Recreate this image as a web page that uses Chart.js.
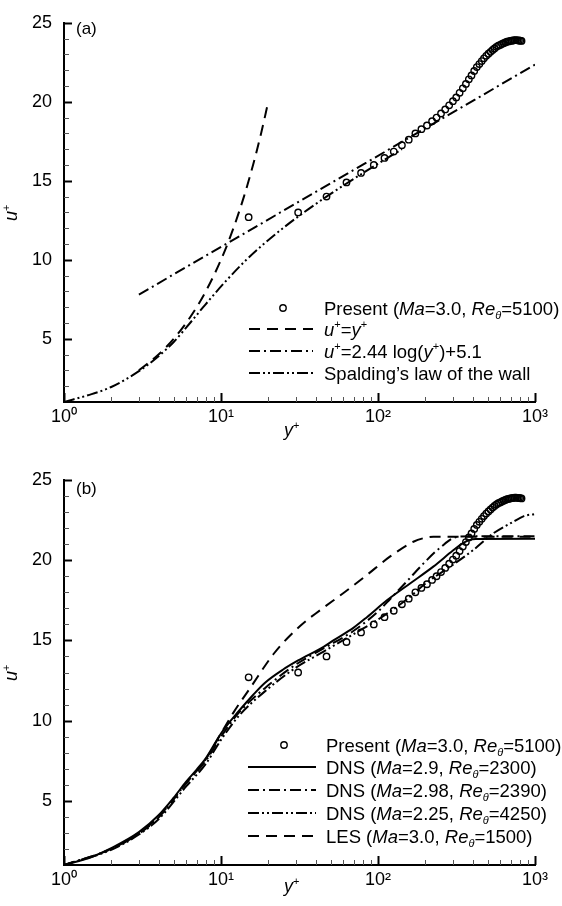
<!DOCTYPE html>
<html><head><meta charset="utf-8">
<script src="https://cdn.jsdelivr.net/npm/chart.js@4/dist/chart.umd.min.js"></script>
<style>
html,body{margin:0;padding:0;background:#fff;}
#wrap{position:relative;width:562px;height:906px;overflow:hidden;}
canvas{position:absolute;left:0;}
</style></head><body>
<div id="wrap">
<canvas id="ca" width="562" height="453" style="top:0"></canvas>
<canvas id="cb" width="562" height="453" style="top:453px"></canvas>
</div>
<script>
// ---------- data ----------
const xTickValues = [1, 10, 100, 1000];
const xTickLabels = ['10\u2070', '10\u00B9', '10\u00B2', '10\u00B3'];
const yTickValues = [5, 10, 15, 20, 25];

// Present (Ma=3.0, Re_theta=5100)
const presentY = [15,31,47,63,78,94,110,126,142,157,173,189,205,221,236,252,268,284,300,315,331,347,363,379,394,410,426,442,458,473,489,505,521,537,552,568,584,600,616,631,647,663,679,695,710,726,742,758,774,789,805,821];
const presentU = [12.7,13.0,14.0,14.9,15.5,16.0,16.45,16.85,17.25,17.6,18.0,18.27,18.5,18.77,19.0,19.26,19.52,19.78,20.04,20.28,20.57,20.85,21.13,21.42,21.67,21.95,22.2,22.39,22.58,22.75,22.91,23.04,23.16,23.28,23.38,23.48,23.55,23.6,23.66,23.71,23.76,23.8,23.82,23.85,23.87,23.88,23.9,23.9,23.89,23.88,23.87,23.85];

// panel (a)
const linearY = [3,4,5,6,7,8,10,12,14,16,18,20];
const linearU = [3,4,5,6,7,8,10,12,14,16,18,20];
const logLawY = [3, 1000];
const logLawU = [7.8, 22.35];
const spaldingY = [1,1.5,2,3,4,5,6.35,7.7,10.4,14.5,18.7,24.8,33.7,47,67,97,142];
const spaldingU = [1,1.5,1.95,2.95,3.9,4.8,6,7,8.5,10,11,12,13,14,15,16,17];

// panel (b)
const dns29Y = [1,1.5,2,3,4,5,6,7,8,10,13,16,19,25,31,45,52,70,85,114,160,225,300,340,380,420,1000];
const dns29U = [1,1.5,2.05,3.05,4.1,5.2,6.2,6.95,7.65,9.2,10.6,11.6,12.35,13.2,13.75,14.6,15.0,15.8,16.45,17.5,18.55,19.6,20.6,21.0,21.25,21.32,21.33];
const dns298Y = [1,2,3,4,6,8,10,13,20,30,45,70,100,120,150,195,250,317,400,1000];
const dns298U = [1,2.0,2.95,3.95,6.1,7.5,9.0,10.5,12.2,13.5,14.5,15.6,16.8,17.6,18.6,19.8,20.8,21.45,21.5,21.5];
const dns225Y = [1,2,3,4,6,8,10,13,20,30,45,70,100,150,204,288,405,542,728,850,1000];
const dns225U = [1,1.95,2.9,3.85,5.9,7.3,8.8,10.3,12.0,13.3,14.3,15.4,16.3,17.5,18.6,19.6,20.64,21.67,22.4,22.75,22.88];
const lesY = [1,2,3,4,6,8,10,12,15.5,21.8,31.9,43,60,85,119,168,200,225,1000];
const lesU = [1,2.0,3.0,4.0,6.1,7.6,9.2,10.5,12.1,14.2,15.9,16.9,17.94,19.08,20.22,21.15,21.4,21.47,21.47];

// ---------- styles ----------
const FONT = '"Liberation Sans", Arial, Helvetica, sans-serif';
const LEG_SIZE = 18.5;
const TICK_SIZE = 18;
const DASH = [11, 7];
const DASHDOT = [11, 4, 2, 4];
const DASHDOTDOT = [11, 3, 2, 3, 2, 3];

function pts(xs, ys) { return xs.map((x, i) => ({x: x, y: ys[i]})); }

function markerSet(label) {
  return {label, data: pts(presentY, presentU), showLine: false, pointStyle: 'circle',
    pointRadius: 3.2, pointBorderWidth: 1.4, pointBorderColor: '#000',
    pointBackgroundColor: 'rgba(0,0,0,0)', borderColor: '#000'};
}
function lineSet(label, xs, ys, dash) {
  return {label, data: pts(xs, ys), showLine: true, borderColor: '#000', borderWidth: 2,
    borderDash: dash, pointRadius: 0, cubicInterpolationMode: 'monotone', fill: false};
}

function drawParts(ctx, x, y, parts, size) {
  for (const [t, s] of parts) {
    let f = size, dy = 0, it = false;
    if (s === 'i') it = true;
    if (s === 'sup') { f = Math.round(size * 0.62); dy = -size * 0.4; }
    if (s === 'subi') { f = Math.round(size * 0.6); dy = size * 0.22; it = true; }
    ctx.font = (it ? 'italic ' : '') + f + 'px ' + FONT;
    ctx.fillText(t, x, y + dy);
    x += ctx.measureText(t).width;
  }
  return x;
}

const decor = {
  id: 'decor',
  afterDatasetsDraw(chart, args, o) {
    const {ctx, chartArea: a, scales: {x, y}} = chart;
    ctx.save();
    // x tick marks (inward)
    const xt = [];
    for (const d of [1, 10, 100]) for (let k = 1; k <= 9; k++) xt.push([k * d, k === 1]);
    xt.push([1000, true]);
    for (const [v, major] of xt) {
      const px = Math.round(x.getPixelForValue(v)) + 0.5;
      ctx.beginPath();
      ctx.strokeStyle = major ? '#000' : '#555';
      ctx.lineWidth = major ? 2 : 1;
      ctx.moveTo(px, a.bottom);
      ctx.lineTo(px, a.bottom - (major ? 9 : 5));
      ctx.stroke();
    }
    // y tick marks (inward)
    for (let v = 2; v <= 25; v++) {
      const major = v % 5 === 0;
      const py = Math.round(y.getPixelForValue(v)) + 0.5;
      ctx.beginPath();
      ctx.strokeStyle = major ? '#000' : '#555';
      ctx.lineWidth = major ? 2 : 1;
      ctx.moveTo(a.left, py);
      ctx.lineTo(a.left + (major ? 8 : 5), py);
      ctx.stroke();
    }
    ctx.fillStyle = '#000';
    ctx.textBaseline = 'alphabetic';
    ctx.textAlign = 'left';
    // panel label
    ctx.font = '17px ' + FONT;
    ctx.fillText(o.panel, 76, o.panelY);
    // y title
    ctx.save();
    ctx.translate(17, (a.top + a.bottom) / 2);
    ctx.rotate(-Math.PI / 2);
    ctx.font = 'italic 18px ' + FONT;
    const w = ctx.measureText('u').width + 7;
    drawParts(ctx, -w / 2, 0, [['u', 'i'], ['+', 'sup']], 18);
    ctx.restore();
    // x title
    drawParts(ctx, o.xTitleX - 8, o.xTitleY, [['y', 'i'], ['+', 'sup']], 18);
    // legend
    o.legend.forEach((it, i) => {
      const cy = o.legRows[i];
      const x0 = o.legX0, x1 = o.legX1;
      if (it.type === 'marker') {
        ctx.beginPath();
        ctx.lineWidth = 1.4; ctx.strokeStyle = '#000'; ctx.setLineDash([]);
        ctx.arc((x0 + x1) / 2 + 2, cy, 3.2, 0, Math.PI * 2);
        ctx.stroke();
      } else {
        ctx.beginPath();
        ctx.lineWidth = 2; ctx.strokeStyle = '#000'; ctx.setLineDash(it.dash);
        ctx.moveTo(x0, cy); ctx.lineTo(x1, cy);
        ctx.stroke();
        ctx.setLineDash([]);
      }
      drawParts(ctx, o.legText, cy + 6.5, it.parts, LEG_SIZE);
    });
    ctx.restore();
  }
};

function makeOptions(padTop, xH, dec) {
  return {
    responsive: false, animation: false, devicePixelRatio: 1,
    layout: {padding: {top: padTop, right: 27, left: 0, bottom: 0}},
    plugins: {legend: {display: false}, tooltip: {enabled: false}, decor: dec},
    scales: {
      x: {type: 'logarithmic', min: 1, max: 1000, position: 'bottom',
        grid: {display: false, drawTicks: false},
        border: {display: true, color: '#000', width: 2},
        afterBuildTicks: s => { s.ticks = xTickValues.map(v => ({value: v})); },
        ticks: {autoSkip: false, maxRotation: 0, padding: 4, color: '#000',
          font: {family: FONT, size: TICK_SIZE},
          callback: (v) => { const i = xTickValues.indexOf(v); return i >= 0 ? xTickLabels[i] : ''; }},
        afterFit: s => { s.height = xH; }
      },
      y: {type: 'linear', min: 1, max: 25,
        grid: {display: false, drawTicks: false},
        border: {display: true, color: '#000', width: 2},
        afterBuildTicks: s => { s.ticks = yTickValues.map(v => ({value: v})); },
        ticks: {padding: 12, color: '#000', font: {family: FONT, size: TICK_SIZE}},
        afterFit: s => { s.width = 64; }
      }
    }
  };
}

const presentParts = [['Present (', 'n'], ['Ma', 'i'], ['=3.0, ', 'n'], ['Re', 'i'], ['\u03B8', 'subi'], ['=5100)', 'n']];

new Chart(document.getElementById('ca'), {
  type: 'scatter',
  data: {datasets: [
    markerSet('Present'),
    lineSet('u+=y+', linearY, linearU, DASH),
    lineSet('log law', logLawY, logLawU, DASHDOT),
    lineSet('Spalding', spaldingY, spaldingU, DASHDOTDOT)
  ]},
  options: makeOptions(16, 51, {
    panel: '(a)', panelY: 34, xTitleX: 292, xTitleY: 436,
    legX0: 249, legX1: 313, legText: 324, legRows: [308, 329, 351, 373],
    legend: [
      {type: 'marker', parts: presentParts},
      {type: 'line', dash: DASH, parts: [['u', 'i'], ['+', 'sup'], ['=', 'n'], ['y', 'i'], ['+', 'sup']]},
      {type: 'line', dash: DASHDOT, parts: [['u', 'i'], ['+', 'sup'], ['=2.44 log(', 'n'], ['y', 'i'], ['+', 'sup'], [')+5.1', 'n']]},
      {type: 'line', dash: DASHDOTDOT, parts: [['Spalding\u2019s law of the wall', 'n']]}
    ]
  }),
  plugins: [decor]
});

new Chart(document.getElementById('cb'), {
  type: 'scatter',
  data: {datasets: [
    markerSet('Present'),
    lineSet('DNS 2.9', dns29Y, dns29U, []),
    lineSet('DNS 2.98', dns298Y, dns298U, DASHDOT),
    lineSet('DNS 2.25', dns225Y, dns225U, DASHDOTDOT),
    lineSet('LES', lesY, lesU, DASH)
  ]},
  options: makeOptions(27, 41, {
    panel: '(b)', panelY: 41, xTitleX: 292, xTitleY: 439,
    legX0: 248, legX1: 316, legText: 326, legRows: [292, 314, 337, 360, 383],
    legend: [
      {type: 'marker', parts: presentParts},
      {type: 'line', dash: [], parts: [['DNS (', 'n'], ['Ma', 'i'], ['=2.9, ', 'n'], ['Re', 'i'], ['\u03B8', 'subi'], ['=2300)', 'n']]},
      {type: 'line', dash: DASHDOT, parts: [['DNS (', 'n'], ['Ma', 'i'], ['=2.98, ', 'n'], ['Re', 'i'], ['\u03B8', 'subi'], ['=2390)', 'n']]},
      {type: 'line', dash: DASHDOTDOT, parts: [['DNS (', 'n'], ['Ma', 'i'], ['=2.25, ', 'n'], ['Re', 'i'], ['\u03B8', 'subi'], ['=4250)', 'n']]},
      {type: 'line', dash: DASH, parts: [['LES (', 'n'], ['Ma', 'i'], ['=3.0, ', 'n'], ['Re', 'i'], ['\u03B8', 'subi'], ['=1500)', 'n']]}
    ]
  }),
  plugins: [decor]
});
</script>
</body></html>
